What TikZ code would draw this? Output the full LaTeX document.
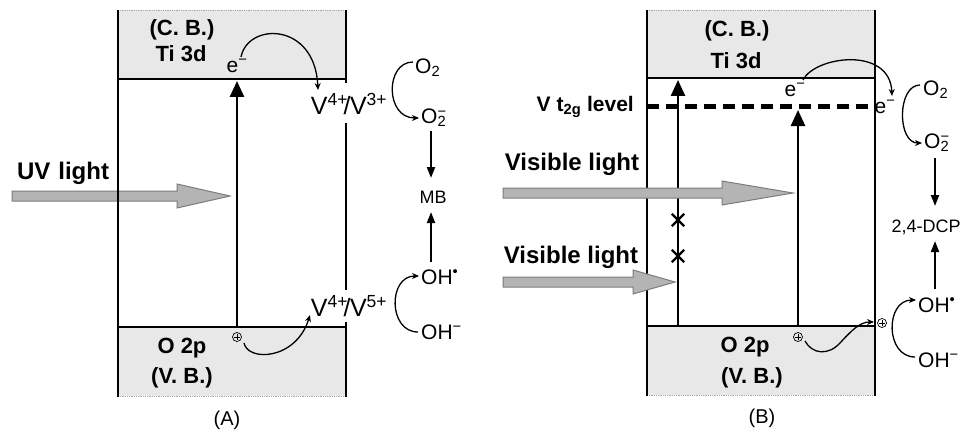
\documentclass[tikz,border=0pt]{standalone}
\usepackage{fontspec}
\setmainfont{Liberation Sans}
\usetikzlibrary{arrows.meta,shapes.misc}
\definecolor{bandgray}{HTML}{E8E8E8}
\definecolor{arrowfill}{HTML}{B4B4B4}
\definecolor{arrowdraw}{HTML}{7C7C7C}
\definecolor{edgegray}{HTML}{A8A8A8}
\begin{document}
\begin{tikzpicture}[x=1pt,y=-1pt,
  boxline/.style={line width=2.6pt},
  bandline/.style={line width=2pt},
  edgeline/.style={draw=edgegray, line width=0.8pt, densely dotted},
  uparrow/.style={line width=2.6pt,-{Triangle[length=16pt,width=14pt]}},
  rarrow/.style={line width=2pt,-{Triangle[length=11pt,width=8pt]}},
  carrow/.style={line width=1.3pt,-{Stealth[length=7pt,width=6pt]}},
  lbl/.style={font=\bfseries\fontsize{22}{24}\selectfont, inner sep=0pt},
  lightlbl/.style={font=\bfseries\fontsize{24}{26}\selectfont, inner sep=0pt},
  ion/.style={font=\fontsize{25}{28}\selectfont, inner sep=0pt},
  chem/.style={font=\fontsize{21}{23}\selectfont, inner sep=0pt},
  smallchem/.style={font=\fontsize{18}{20}\selectfont, inner sep=0pt},
  panelcap/.style={font=\fontsize{20}{22}\selectfont, inner sep=0pt},
  light/.style={fill=arrowfill, draw=arrowdraw, line width=1pt},
  hole/.style={circle, draw, line width=0.7pt, inner sep=0pt, minimum size=9pt,
    path picture={
      \draw[line width=0.7pt] ([xshift=-2.6pt]path picture bounding box.center) -- ([xshift=2.6pt]path picture bounding box.center);
      \draw[line width=0.7pt] ([yshift=-2.6pt]path picture bounding box.center) -- ([yshift=2.6pt]path picture bounding box.center);}},
  xmark/.style={cross out, draw, line width=2.4pt, minimum size=10pt, inner sep=0pt},
]
\fill[white] (0,0) rectangle (968,433);
\useasboundingbox (0,0) rectangle (968,433);

% ================= Panel A =================
\fill[bandgray] (118,10) rectangle (346,79);
\fill[bandgray] (118,327) rectangle (346,396);
\draw[edgeline] (118,10) -- (346,10);
\draw[edgeline] (118,396) -- (346,396);
\draw[bandline] (118,79) -- (346,79);
\draw[bandline] (118,327) -- (346,327);

% UV light arrow
\draw[light] (12,191) -- (177,191) -- (177,184) -- (230,196) -- (177,208) -- (177,201) -- (12,201) -- cycle;
\node[lightlbl] (uv) at (63,173) {UV\hspace{8pt}light};

\draw[boxline] (118,10) -- (118,397);
\draw[boxline] (346,10) -- (346,83);
\draw[boxline] (346,123) -- (346,290);
\draw[boxline] (346,322) -- (346,397);

\node[lbl] (cbA) at (182,30) {(C. B.)};
\node[lbl] (tiA) at (181,54) {Ti 3d};
\node[lbl] (opA) at (182,348) {O 2p};
\node[lbl] (vbA) at (182,378) {(V. B.)};

\node[chem] (eA) at (237,66) {e\textsuperscript{−}};
\node[hole] (hA) at (237,337) {};
\coordinate (upA0) at (237,327);
\coordinate (upA1) at (237,81);
\draw[uparrow] (upA0) -- (upA1);

\node[ion] (v3A) at (349,104) {V\textsuperscript{4+}\kern-4.5pt/\kern-0.5pt V\textsuperscript{3+}};
\node[ion] (v5A) at (349,306) {V\textsuperscript{4+}\kern-4.5pt/\kern-0.5pt V\textsuperscript{5+}};

\coordinate (eAs) at (241,57);
\coordinate (v3Ae) at (318,90);
\draw[carrow] (eAs) .. controls (248,22) and (315,22) .. (v3Ae);
\coordinate (hAs) at (244,343);
\coordinate (v5Ae) at (310,315);
\draw[carrow] (hAs) .. controls (248,362) and (296,360) .. (v5Ae);

\node[chem, anchor=west] (o2A) at (415,68) {O\textsubscript{2}};
\node[chem, anchor=west] (o2mA) at (421,118) {O\rlap{\textsuperscript{−}}\textsubscript{2}};
\node[smallchem] (mbA) at (433,197) {MB};
\node[chem, anchor=west] (ohdA) at (421,277) {OH\textsuperscript{•}};
\node[chem, anchor=west] (ohmA) at (421,332) {OH\textsuperscript{−}};

\coordinate (o2As) at (413,62);
\coordinate (o2Ae) at (419,118);
\draw[carrow] (o2As) .. controls (385,62) and (385,118) .. (o2Ae);
\coordinate (ohAs) at (418,332);
\coordinate (ohAe) at (419,276);
\draw[carrow] (ohAs) .. controls (388,332) and (388,276) .. (ohAe);
\coordinate (dA0) at (431,131);
\coordinate (dA1) at (431,178);
\draw[rarrow] (dA0) -- (dA1);
\coordinate (uA0) at (431,262);
\coordinate (uA1) at (431,212);
\draw[rarrow] (uA0) -- (uA1);

\node[panelcap] (capA) at (227,420) {(A)};

% ================= Panel B =================
\fill[bandgray] (647,10) rectangle (875,78);
\fill[bandgray] (647,326) rectangle (875,395);
\draw[edgeline] (647,10) -- (875,10);
\draw[edgeline] (647,395) -- (875,395);
\draw[bandline] (647,78) -- (875,78);
\draw[bandline] (647,326) -- (875,326);
\draw[boxline] (647,10) -- (647,396);
\draw[boxline] (875,10) -- (875,396);

\coordinate (dashL) at (647,107);
\coordinate (dashR) at (875,107);
\draw[line width=5pt, dash pattern=on 12pt off 7pt] (dashL) -- (dashR);
\node[font=\bfseries\fontsize{21}{23}\selectfont, inner sep=0pt, anchor=east] (t2g) at (634,107) {V\hspace{6pt}t\textsubscript{2g} level};

\node[lbl] (cbB) at (737,31) {(C. B.)};
\node[lbl] (tiB) at (736,61) {Ti 3d};
\node[lbl] (opB) at (745,347) {O 2p};
\node[lbl] (vbB) at (752,378) {(V. B.)};

\coordinate (upB0) at (678,326);
\coordinate (upB1) at (678,80);
\draw[uparrow] (upB0) -- (upB1);
\coordinate (upC0) at (798,326);
\coordinate (upC1) at (798,110);
\draw[uparrow] (upC0) -- (upC1);

\node[xmark] (x1) at (678,220) {};
\node[xmark] (x2) at (678,256) {};

\node[chem] (eB) at (795,90) {e\textsuperscript{−}};
\node[chem] (eB2) at (885,107) {e\textsuperscript{−}};
\coordinate (eBs) at (803,80);
\coordinate (eBe) at (892,96);
\draw[carrow] (eBs) .. controls (815,56) and (890,46) .. (eBe);

\node[hole] (hB) at (798,337) {};
\node[hole] (hB2) at (882,323) {};
\coordinate (hBs) at (805,341);
\coordinate (hBm) at (840,343);
\coordinate (hBe) at (874,322);
\draw[carrow] (hBs) .. controls (812,354) and (828,356) .. (hBm) .. controls (852,330) and (860,322) .. (hBe);

% Visible light arrows
\draw[light] (503,188) -- (722,188) -- (722,181) -- (793,193) -- (722,205) -- (722,198) -- (503,198) -- cycle;
\draw[light] (503,277) -- (633,277) -- (633,270) -- (675,282) -- (633,294) -- (633,287) -- (503,287) -- cycle;
\node[lightlbl] (vis1) at (572,164) {Visible light};
\node[lightlbl] (vis2) at (571,257) {Visible light};

\node[chem, anchor=west] (o2B) at (923,90) {O\textsubscript{2}};
\node[chem, anchor=west] (o2mB) at (924,143) {O\rlap{\textsuperscript{−}}\textsubscript{2}};
\node[smallchem] (dcp) at (926,227) {2,4-DCP};
\node[chem, anchor=west] (ohdB) at (918,305) {OH\textsuperscript{•}};
\node[chem, anchor=west] (ohmB) at (918,360) {OH\textsuperscript{−}};

\coordinate (o2Bs) at (920,85);
\coordinate (o2Be) at (922,143);
\draw[carrow] (o2Bs) .. controls (897,85) and (897,143) .. (o2Be);
\coordinate (ohBs) at (915,357);
\coordinate (ohBe) at (916,300);
\draw[carrow] (ohBs) .. controls (885,357) and (885,300) .. (ohBe);
\coordinate (dB0) at (935,158);
\coordinate (dB1) at (935,206);
\draw[rarrow] (dB0) -- (dB1);
\coordinate (uB0) at (935,289);
\coordinate (uB1) at (935,241);
\draw[rarrow] (uB0) -- (uB1);

\node[panelcap] (capB) at (762,418) {(B)};
\end{tikzpicture}
\end{document}
